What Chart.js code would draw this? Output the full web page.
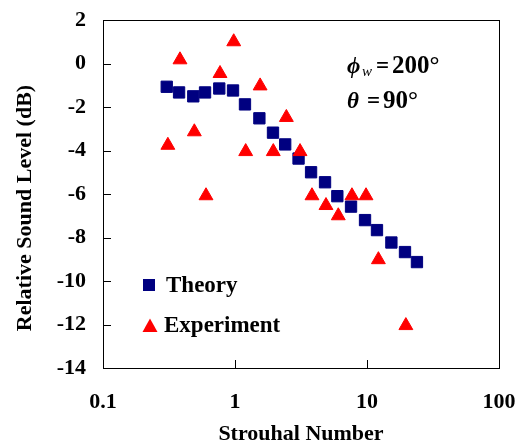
<!DOCTYPE html>
<html>
<head>
<meta charset="utf-8">
<script src="https://cdn.jsdelivr.net/npm/chart.js@4/dist/chart.umd.min.js"></script>
<style>
  html, body { margin: 0; padding: 0; background: #fff; }
  #wrap { width: 523px; height: 445px; }
</style>
</head>
<body>
<div id="wrap"><canvas id="chart"></canvas></div>
<script>
// Strouhal number vs relative sound level
const theoryStrouhal = [0.304, 0.377, 0.483, 0.593, 0.760, 0.966, 1.19, 1.53, 1.94, 2.40,
                        3.03, 3.77, 4.81, 5.96, 7.57, 9.66, 11.9, 15.3, 19.4, 23.9];
const theoryLevel = [-1.07, -1.33, -1.51, -1.33, -1.15, -1.24, -1.88, -2.52, -3.18, -3.72,
                     -4.37, -5.00, -5.46, -6.10, -6.58, -7.20, -7.66, -8.23, -8.67, -9.13];

const expStrouhal = [0.310, 0.383, 0.492, 0.603, 0.770, 0.978, 1.205, 1.55, 1.95, 2.45,
                     3.11, 3.83, 4.89, 6.06, 7.69, 9.83, 12.2, 19.7];
const expLevel = [-3.76, 0.17, -3.14, -6.08, -0.46, 1.00, -4.05, -1.03, -4.05, -2.48,
                  -4.05, -6.08, -6.53, -7.00, -6.08, -6.08, -9.02, -12.05];

const xTickValues = [0.1, 1, 10, 100];
const yMin = -14, yMax = 2, yStep = 2;

const seriesNames = ['Theory', 'Experiment'];
const seriesColors = ['#000080', '#ff0000'];
const yTitle = 'Relative Sound Level (dB)';
const xTitle = 'Strouhal Number';

const serif = '"Liberation Serif", "Times New Roman", serif';

// where the plot box should sit inside the canvas
const plotBox = { left: 103, top: 20, right: 499, bottom: 368 };

function toPoints(xs, ys) {
  return xs.map((x, i) => ({ x: x, y: ys[i] }));
}

// the scales ask for room for their end labels; the layout padding handles that here
function noScalePadding(s) {
  s.paddingTop = 0;
  s.paddingBottom = 0;
  s.paddingLeft = 0;
  s.paddingRight = 0;
}

// box around the plot plus inward tick marks
const framePlugin = {
  id: 'frame',
  beforeDatasetsDraw(chart) {
    const { ctx, chartArea: a, scales } = chart;
    ctx.save();
    ctx.strokeStyle = '#000';
    ctx.lineWidth = 1;
    ctx.strokeRect(Math.round(a.left) + 0.5, Math.round(a.top) + 0.5,
                   Math.round(a.right - a.left), Math.round(a.bottom - a.top));
    ctx.beginPath();
    scales.y.ticks.forEach(t => {
      const py = Math.round(scales.y.getPixelForValue(t.value)) + 0.5;
      ctx.moveTo(a.left, py);
      ctx.lineTo(a.left + 8, py);
    });
    scales.x.ticks.forEach(t => {
      const px = Math.round(scales.x.getPixelForValue(t.value)) + 0.5;
      ctx.moveTo(px, a.bottom);
      ctx.lineTo(px, a.bottom - 8);
    });
    ctx.stroke();
    ctx.restore();
  }
};

// y title, legend in the lower left and the angle note in the upper right
const notesPlugin = {
  id: 'notes',
  afterDraw(chart) {
    const ctx = chart.ctx;
    ctx.save();

    ctx.save();
    ctx.translate(25, 208);
    ctx.rotate(-Math.PI / 2);
    ctx.textAlign = 'center';
    ctx.textBaseline = 'middle';
    ctx.fillStyle = '#000';
    ctx.font = 'bold 22px ' + serif;
    ctx.fillText(yTitle, 0, 0);
    ctx.restore();

    ctx.textBaseline = 'middle';
    ctx.textAlign = 'left';

    // legend
    ctx.fillStyle = seriesColors[0];
    ctx.fillRect(143, 279, 12, 12);
    ctx.fillStyle = seriesColors[1];
    ctx.beginPath();
    ctx.moveTo(150, 318.5);
    ctx.lineTo(157.5, 332);
    ctx.lineTo(142.5, 332);
    ctx.closePath();
    ctx.fill();
    ctx.fillStyle = '#000';
    ctx.font = 'bold 23px ' + serif;
    ctx.fillText(seriesNames[0], 166, 286);
    ctx.fillText(seriesNames[1], 164, 326);

    // angles
    ctx.textBaseline = 'alphabetic';
    ctx.font = 'italic bold 23px ' + serif;
    ctx.fillText('\u03d5', 347, 73);
    ctx.font = 'italic 15px ' + serif;
    ctx.fillText('w', 362, 76);
    ctx.font = 'bold 23px ' + serif;
    ctx.fillText('=', 376, 73);
    ctx.font = 'bold 25px ' + serif;
    ctx.fillText('200\u00b0', 392, 73);

    ctx.font = 'italic bold 23px ' + serif;
    ctx.fillText('\u03b8', 347, 108);
    ctx.font = 'bold 23px ' + serif;
    ctx.fillText('=', 367, 108);
    ctx.font = 'bold 25px ' + serif;
    ctx.fillText('90\u00b0', 383, 108);
    ctx.restore();
  }
};

new Chart(document.getElementById('chart'), {
  type: 'scatter',
  data: {
    datasets: [
      {
        label: seriesNames[0],
        data: toPoints(theoryStrouhal, theoryLevel),
        pointStyle: 'rect',
        pointRadius: 8,
        backgroundColor: seriesColors[0],
        borderColor: seriesColors[0],
        borderWidth: 1,
        order: 2
      },
      {
        label: seriesNames[1],
        data: toPoints(expStrouhal, expLevel),
        pointStyle: 'triangle',
        pointRadius: 8,
        backgroundColor: seriesColors[1],
        borderColor: seriesColors[1],
        borderWidth: 1,
        order: 1
      }
    ]
  },
  options: {
    responsive: true,
    maintainAspectRatio: false,
    animation: false,
    devicePixelRatio: 1,
    layout: {
      padding: { top: plotBox.top, right: 523 - plotBox.right, bottom: 0, left: 0 }
    },
    plugins: {
      legend: { display: false },
      tooltip: { enabled: false }
    },
    scales: {
      x: {
        type: 'logarithmic',
        min: 0.1,
        max: 100,
        afterBuildTicks: s => { s.ticks = xTickValues.map(v => ({ value: v })); },
        afterFit: s => { s.height = 445 - plotBox.bottom; noScalePadding(s); },
        grid: { display: false, drawTicks: false },
        border: { display: false },
        ticks: {
          color: '#000',
          font: { family: serif, size: 22, weight: 'bold' },
          padding: 21,
          maxRotation: 0,
          autoSkip: false,
          callback: v => String(v)
        },
        title: {
          display: true,
          text: xTitle,
          color: '#000',
          font: { family: serif, size: 22, weight: 'bold', lineHeight: 1 },
          padding: 0
        }
      },
      y: {
        min: yMin,
        max: yMax,
        afterFit: s => { s.width = plotBox.left; noScalePadding(s); },
        grid: { display: false, drawTicks: false },
        border: { display: false },
        ticks: {
          stepSize: yStep,
          color: '#000',
          font: { family: serif, size: 22, weight: 'bold' },
          padding: 17
        }
      }
    }
  },
  plugins: [framePlugin, notesPlugin]
});
</script>
</body>
</html>
